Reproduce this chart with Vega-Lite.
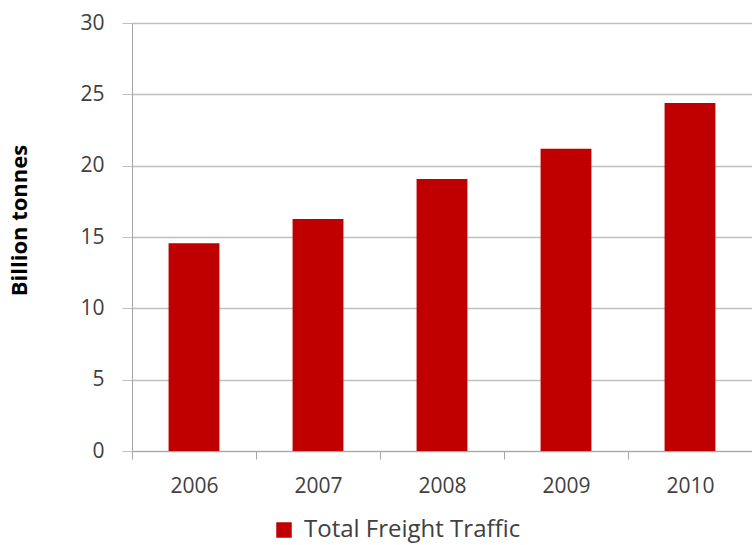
{
  "$schema": "https://vega.github.io/schema/vega-lite/v6.json",
  "width": 620,
  "height": 428,
  "autosize": "none",
  "padding": {"left": 132, "top": 23, "right": 0, "bottom": 94},
  "background": "white",
  "config": {
    "view": {"stroke": null},
    "font": "Open Sans"
  },
  "data": {
    "values": [
      {"year": "2006", "value": 14.56, "series": "Total Freight Traffic"},
      {"year": "2007", "value": 16.27, "series": "Total Freight Traffic"},
      {"year": "2008", "value": 19.07, "series": "Total Freight Traffic"},
      {"year": "2009", "value": 21.18, "series": "Total Freight Traffic"},
      {"year": "2010", "value": 24.4, "series": "Total Freight Traffic"}
    ]
  },
  "mark": {"type": "bar", "width": {"band": 0.41}},
  "encoding": {
    "x": {
      "field": "year",
      "type": "ordinal",
      "scale": {"paddingInner": 0, "paddingOuter": 0},
      "axis": {
        "title": null,
        "labelAngle": 0,
        "labelFont": "Open Sans",
        "labelFontSize": 21,
        "labelColor": "#404040",
        "labelPadding": 16,
        "domainColor": "#a6a6a6",
        "tickColor": "#a6a6a6",
        "tickSize": 8,
        "tickBand": "extent",
        "grid": false
      }
    },
    "y": {
      "field": "value",
      "type": "quantitative",
      "scale": {"domain": [0, 30]},
      "axis": {
        "title": "Billion tonnes",
        "titleFont": "Open Sans",
        "titleFontSize": 22,
        "titleFontWeight": "bold",
        "titleColor": "#000000",
        "titlePadding": 48,
        "titleY": 197,
        "values": [0, 5, 10, 15, 20, 25, 30],
        "labelFont": "Open Sans",
        "labelFontSize": 21,
        "labelColor": "#404040",
        "labelPadding": 18,
        "domainColor": "#a6a6a6",
        "tickColor": "#bfbfbf",
        "tickSize": 10,
        "grid": true,
        "gridColor": "#bfbfbf",
        "gridWidth": 1.5
      }
    },
    "color": {
      "field": "series",
      "type": "nominal",
      "scale": {"range": ["#C00000"]},
      "legend": {
        "title": null,
        "orient": "none",
        "legendX": 140,
        "legendY": 495,
        "symbolType": "square",
        "symbolSize": 240,
        "symbolStrokeWidth": 0,
        "labelFont": "Open Sans",
        "labelFontSize": 24,
        "labelLimit": 500,
        "labelColor": "#404040",
        "labelOffset": 8
      }
    }
  }
}
